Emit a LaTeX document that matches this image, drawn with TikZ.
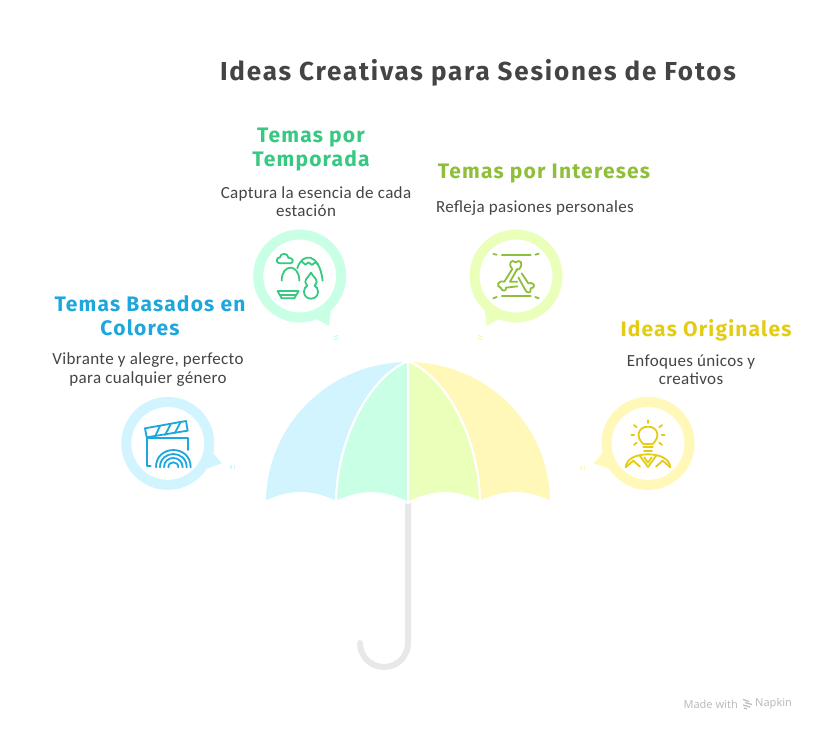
\documentclass[tikz,border=0pt]{standalone}
\usepackage{fontspec}
\usepackage{tikz}
\setmainfont[LetterSpace=2]{Carlito}
\newfontfamily\headfont[LetterSpace=5.7]{Fira Sans}
\newfontfamily\titlefont[LetterSpace=7]{Fira Sans}
\newfontfamily\markfont{Noto Sans}
\definecolor{mink}{HTML}{444444}
\definecolor{mblue}{HTML}{1EA7DC}
\definecolor{mgreen}{HTML}{37C882}
\definecolor{mlime}{HTML}{8FBF3A}
\definecolor{myellow}{HTML}{E3CC12}
\definecolor{lblue}{HTML}{D1F4FF}
\definecolor{lgreen}{HTML}{C9FFE5}
\definecolor{llime}{HTML}{EAFFBA}
\definecolor{lyellow}{HTML}{FFF8B8}
\definecolor{mhandle}{HTML}{E8E8E8}
\definecolor{mmark}{HTML}{BBBBBB}
\tikzset{
  bubble/.style={circle, draw=#1, fill=white, line width=10pt, minimum size=83pt, inner sep=0pt},
  heading/.style={text=#1, align=center, font=\headfont\bfseries\fontsize{21}{24}\selectfont, inner sep=0pt},
  blurb/.style={text=mink, align=center, font=\fontsize{17}{18.5}\selectfont, inner sep=0pt},
  panel/.style={fill=#1, draw=white, line width=2pt, line join=round},
  iconline/.style={draw=#1, line width=1.8pt, line cap=round, line join=round},
  dots/.style={draw=#1, line width=1.3pt, line cap=round}
}

\begin{document}
\begin{tikzpicture}[x=1pt, y=-1pt]
      \useasboundingbox (0, 0) rectangle (816, 732);
      \node [text=mink, inner sep=0pt, font=\titlefont\bfseries\fontsize{26}{28}\selectfont] (title) at (478, 73) {Ideas Creativas para Sesiones de Fotos};

      \node [heading=mblue] (colores) at (150, 316) {Temas Basados en\\\hspace*{-20pt}Colores};
      \node [blurb] (colorestext) at (148, 369.5) {Vibrante y alegre, perfecto\\para cualquier género};
      \node [heading=mgreen] (temporada) at (311, 150) {Temas por\\Temporada};
      \node [blurb] (temporadatext) at (316, 201.5) {Captura la esencia de cada\\\hspace*{-20pt}estación};
      \node [heading=mlime] (intereses) at (544, 174) {Temas por Intereses};
      \node [blurb] (interesestext) at (535, 208) {Refleja pasiones personales};
      \node [heading=myellow] (originales) at (706, 330) {Ideas Originales};
      \node [blurb] (originalestext) at (691, 369.5) {Enfoques únicos y\\creativos};

      \draw [mhandle, line width=6pt, line cap=round] (408, 500) -- (408, 643) arc (0:180:24);
      \filldraw [panel=lblue] (265, 502) arc (180:270:143 and 141) -- (408, 361) .. controls (368, 378) and (337, 440) .. (336, 502) .. controls (312, 490) and (290, 490) .. (265, 502) -- cycle;
      \filldraw [panel=lyellow] (551, 502) arc (0:-90:143 and 141) .. controls (448, 378) and (479, 440) .. (480, 502) .. controls (504, 490) and (526, 490) .. (551, 502) -- cycle;
      \filldraw [panel=lgreen] (336, 502) .. controls (337, 440) and (368, 378) .. (408, 361) -- (408, 503) .. controls (384, 490) and (360, 490) .. (336, 502) -- cycle;
      \filldraw [panel=llime] (480, 502) .. controls (479, 440) and (448, 378) .. (408, 361) -- (408, 503) .. controls (432, 490) and (456, 490) .. (480, 502) -- cycle;

      \node [bubble=lblue] (bubblecolores) at (167.8, 443.4) {};
      \node [bubble=lgreen] (bubbletemporada) at (299.7, 276) {};
      \node [bubble=llime] (bubbleintereses) at (516, 276) {};
      \node [bubble=lyellow] (bubbleoriginales) at (648, 443.4) {};
      \coordinate (tailcolores) at (221.7, 463.3);
      \coordinate (tailtemporada) at (329, 326);
      \coordinate (tailintereses) at (486.7, 326);
      \coordinate (tailoriginales) at (594, 463.3);
      \fill [lblue] (bubblecolores.-12) -- (tailcolores) -- (bubblecolores.-33) -- cycle;
      \fill [lgreen] (bubbletemporada.-48) -- (tailtemporada) -- (bubbletemporada.-68) -- cycle;
      \fill [llime] (bubbleintereses.-132) -- (tailintereses) -- (bubbleintereses.-112) -- cycle;
      \fill [lyellow] (bubbleoriginales.-168) -- (tailoriginales) -- (bubbleoriginales.-147) -- cycle;

      \draw [dots=lblue] (231, 465.5) -- (231, 468.5) (234.5, 465.5) -- (234.5, 468.5);
      \draw [dots=lgreen] (334.5, 336.5) -- (337.5, 335.5) (334.5, 339.5) -- (337.5, 338.5);
      \draw [dots=llime] (478.5, 335.5) -- (481.5, 336.5) (478.5, 338.5) -- (481.5, 339.5);
      \draw [dots=lyellow] (581, 466) -- (581, 469) (584.5, 466) -- (584.5, 469);

      \begin{scope}[shift={(110, 220)}, x=0.3333pt, y=-0.3333pt]
        \draw [iconline=mblue] (105, 625) -- (228, 603) -- (233, 632) -- (110, 652) -- cycle;
        \draw [iconline=mblue] (135, 650) -- (150, 618) (165, 645) -- (182, 613) (195, 638) -- (212, 606);
        \draw [iconline=mblue] (235, 690) -- (235, 655) -- (110, 655) -- (110, 738) -- (122, 738);
        \foreach \r in {52, 40, 28, 15} {
          \draw [iconline=mblue] (190-\r, 742) .. controls (190-\r, 742-1.33*\r) and (190+\r, 742-1.33*\r) .. (190+\r, 742);
        }
        \draw [iconline=mgreen] (510, 130) -- (540, 130) .. controls (552, 130) and (552, 113) .. (535, 113) .. controls (535, 98) and (510, 98) .. (510, 112) .. controls (497, 113) and (497, 130) .. (510, 130);
        \draw [iconline=mgreen] (562, 145) .. controls (575, 98) and (628, 95) .. (638, 182);
        \draw [iconline=mgreen] (576, 125) -- (586, 134) -- (596, 127) -- (606, 135) -- (616, 127) -- (625, 134);
        \draw [iconline=mgreen] (515, 182) .. controls (515, 130) and (568, 130) .. (568, 182);
        \draw [iconline=mgreen] (503, 213) -- (566, 213) -- (553, 235) -- (515, 235) -- cycle;
        \draw [iconline=mgreen] (510, 225) -- (558, 225);
        \draw [iconline=mgreen] (603, 158) .. controls (597, 170) and (586, 175) .. (586, 186) .. controls (586, 193) and (592, 195) .. (592, 197) .. controls (586, 200) and (582, 207) .. (582, 215) .. controls (582, 243) and (624, 243) .. (624, 215) .. controls (624, 207) and (620, 200) .. (614, 197) .. controls (614, 195) and (620, 193) .. (620, 186) .. controls (620, 175) and (609, 170) .. (603, 158);
      \end{scope}

      \begin{scope}[shift={(460, 220)}, x=0.3333pt, y=-0.3333pt]
        \draw [iconline=mlime] (100, 102) -- (110, 104) (125, 105) -- (212, 105) (226, 104) -- (236, 101);
        \draw [iconline=mlime] (100, 235) -- (110, 231) (125, 228) -- (212, 228) (226, 231) -- (236, 235);
        \draw [iconline=mlime] (157, 147) .. controls (142, 130) and (155, 116) .. (167, 127) .. controls (180, 116) and (192, 130) .. (178, 147) -- (168, 150);
        \draw [iconline=mlime] (157, 147) -- (133, 185) .. controls (112, 180) and (108, 200) .. (122, 203) .. controls (125, 215) and (140, 215) .. (138, 203) -- (172, 199);
        \draw [iconline=mlime] (172, 147) -- (150, 185) -- (172, 185);
        \draw [iconline=mlime] (185, 160) -- (205, 190) .. controls (225, 185) and (228, 205) .. (212, 205) .. controls (215, 222) and (200, 220) .. (196, 210) -- (175, 172);
        \draw [iconline=myellow] (550, 672) .. controls (525, 650) and (535, 620) .. (564, 620) .. controls (593, 620) and (603, 650) .. (578, 672) -- cycle;
        \draw [iconline=myellow] (550, 682) -- (578, 682) (552, 692) -- (576, 692);
        \draw [iconline=myellow] (564, 601) -- (564, 609) (522, 615) -- (530, 622) (606, 615) -- (598, 622) (514, 645) -- (523, 645) (605, 645) -- (614, 645) (522, 675) -- (530, 668) (606, 675) -- (598, 668);
        \draw [iconline=myellow] (497, 742) .. controls (500, 715) and (530, 703) .. (564, 703) .. controls (598, 703) and (628, 715) .. (631, 742);
        \draw [iconline=myellow] (540, 708) -- (564, 741) -- (588, 708) (553, 712) -- (564, 728) -- (575, 712);
        \draw [iconline=myellow] (497, 742) -- (520, 722) -- (540, 740) (631, 742) -- (608, 722) -- (588, 740);
      \end{scope}

      \node [text=mmark, inner sep=0pt, font=\markfont\fontsize{11}{12}\selectfont, anchor=east] (madewith) at (738, 704) {Made with};
      \node [text=mmark, inner sep=0pt, font=\markfont\fontsize{11}{12}\selectfont, anchor=west] (napkin) at (755, 704) {Napkin};
      \draw [mmark, line width=1.2pt] (743, 699.5) -- (749, 701.5) (745, 702.5) -- (752, 704.5) (743, 705) -- (750, 707) (744, 708) -- (747, 709);
    \end{tikzpicture}
\end{document}
